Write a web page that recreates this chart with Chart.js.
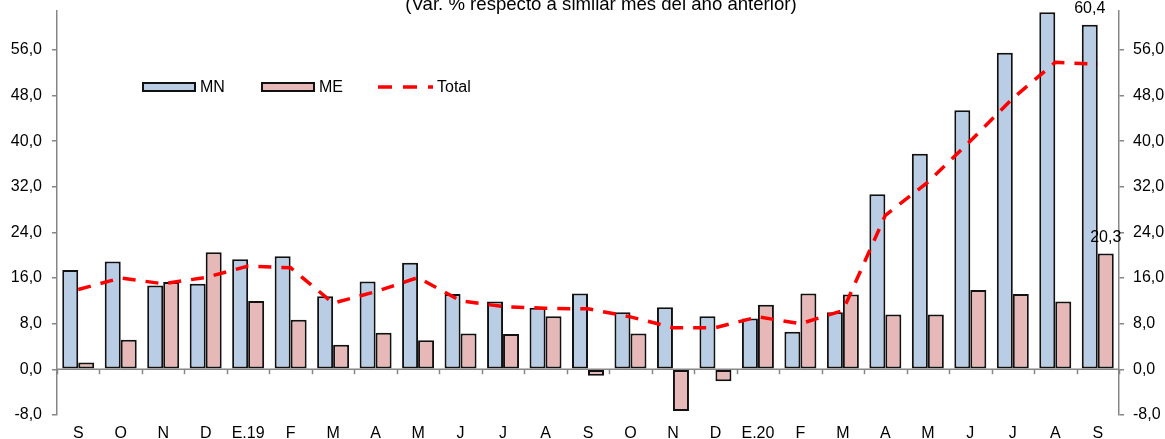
<!DOCTYPE html>
<html>
<head>
<meta charset="utf-8">
<script src="https://cdn.jsdelivr.net/npm/chart.js@4/dist/chart.umd.min.js"></script>
<style>
  body { margin: 0; background: #fff; }
  #wrap { width: 1165px; height: 439px; position: relative; }
</style>
</head>
<body>
<div id="wrap"><canvas id="myChart" width="1165" height="439"></canvas></div>
<script>
const months = ['S', 'O', 'N', 'D', 'E.19', 'F', 'M', 'A', 'M', 'J', 'J', 'A', 'S', 'O', 'N', 'D', 'E.20', 'F', 'M', 'A', 'M', 'J', 'J', 'A', 'S'];
const mnValues = [17.4, 18.9, 14.7, 15.0, 19.3, 19.8, 12.8, 15.4, 18.7, 13.2, 11.9, 10.8, 13.3, 10.0, 10.9, 9.3, 8.9, 6.6, 10.0, 30.7, 37.8, 45.4, 55.5, 62.6, 60.4];
const meValues = [1.2, 5.2, 15.3, 20.5, 12.0, 8.7, 4.3, 6.4, 5.1, 6.3, 6.2, 9.3, -1.1, 6.3, -7.3, -2.1, 11.3, 13.3, 13.1, 9.6, 9.6, 13.9, 13.2, 11.9, 20.3];
const totalValues = [14.0, 16.0, 15.0, 16.1, 18.1, 17.8, 11.6, 13.6, 16.1, 12.0, 11.0, 10.7, 10.6, 9.2, 7.3, 7.3, 9.2, 8.0, 10.3, 27.0, 32.8, 40.0, 47.5, 53.8, 53.5];
const yTicks = [-8, 0, 8, 16, 24, 32, 40, 48, 56];

const titleText = '(Var. % respecto a similar mes del año anterior)';
const blue = '#B9CDE5';
const pink = '#E6B9B8';
const red = '#FF0000';
const axisGray = '#868686';
const font = '16px "Liberation Sans", Arial, sans-serif';

function fmt(v) {
    return v.toFixed(1).replace('.', ',');
}

// zero line with its category tick marks
const zeroAxis = {
    id: 'zeroAxis',
    afterDatasetsDraw(chart) {
        const ctx = chart.ctx;
        const y0 = chart.scales.y.getPixelForValue(0);
        const area = chart.chartArea;
        ctx.save();
        ctx.strokeStyle = axisGray;
        ctx.lineWidth = 1.5;
        ctx.beginPath();
        ctx.moveTo(area.left, y0);
        ctx.lineTo(area.right, y0);
        const step = (area.right - area.left) / months.length;
        for (let i = 0; i <= months.length; i++) {
            const px = Math.round(area.left + i * step) + 0.5;
            ctx.moveTo(px, y0);
            ctx.lineTo(px, y0 + 5);
        }
        ctx.stroke();
        ctx.restore();
    }
};

// title, legend and the two value labels
const extras = {
    id: 'extras',
    afterDraw(chart) {
        const ctx = chart.ctx;
        ctx.save();
        ctx.fillStyle = '#000';
        ctx.font = '18.6px "Liberation Sans", Arial, sans-serif';
        ctx.textAlign = 'center';
        ctx.textBaseline = 'alphabetic';
        ctx.fillText(titleText, 601, 10);

        // legend
        ctx.font = font;
        ctx.textAlign = 'left';
        ctx.textBaseline = 'middle';
        ctx.lineWidth = 2;
        ctx.strokeStyle = '#111';
        ctx.fillStyle = blue;
        ctx.fillRect(143, 83, 52, 8);
        ctx.strokeRect(143, 83, 52, 8);
        ctx.fillStyle = pink;
        ctx.fillRect(262, 83, 52, 8);
        ctx.strokeRect(262, 83, 52, 8);
        ctx.fillStyle = '#000';
        ctx.fillText('MN', 200, 88);
        ctx.fillText('ME', 319, 88);
        ctx.fillText('Total', 437, 88);
        ctx.strokeStyle = red;
        ctx.lineWidth = 3.5;
        ctx.setLineDash([14, 11]);
        ctx.beginPath();
        ctx.moveTo(378, 87);
        ctx.lineTo(433, 87);
        ctx.stroke();
        ctx.setLineDash([]);

        // labels over the last bars
        const last = months.length - 1;
        ctx.textAlign = 'center';
        ctx.textBaseline = 'alphabetic';
        [1, 2].forEach((di) => {
            const bar = chart.getDatasetMeta(di).data[last];
            const v = chart.data.datasets[di].data[last];
            ctx.fillText(fmt(v), bar.x, bar.y - 12);
        });
        ctx.restore();
    }
};

const data = {
    labels: months,
    datasets: [
        {
            type: 'line',
            label: 'Total',
            data: totalValues,
            borderColor: red,
            borderWidth: 3.5,
            borderDash: [13, 10],
            pointRadius: 0,
            tension: 0,
            fill: false,
            order: 0
        },
        {
            type: 'bar',
            label: 'MN',
            data: mnValues,
            backgroundColor: blue,
            borderColor: '#111',
            borderWidth: 2,
            borderSkipped: false,
            order: 1
        },
        {
            type: 'bar',
            label: 'ME',
            data: meValues,
            backgroundColor: pink,
            borderColor: '#111',
            borderWidth: 2,
            borderSkipped: false,
            order: 1
        }
    ]
};

function yAxis(position, width, pad) {
    return {
        position: position,
        min: -8,
        max: 62.8,
        afterBuildTicks(scale) {
            scale.ticks = yTicks.map((v) => ({ value: v }));
        },
        afterFit(scale) {
            scale.width = width;
            scale.paddingTop = 0;
            scale.paddingBottom = 0;
        },
        grid: {
            drawOnChartArea: false,
            drawTicks: true,
            tickLength: 5,
            color: axisGray,
            lineWidth: 1.5
        },
        border: { display: true, color: axisGray, width: 1.5 },
        ticks: {
            padding: pad,
            color: '#000',
            font: { family: '"Liberation Sans", Arial, sans-serif', size: 16 },
            callback: (v) => fmt(v)
        }
    };
}

const config = {
    type: 'bar',
    data: data,
    options: {
        responsive: false,
        animation: false,
        layout: { padding: { top: 11, left: 0, right: 0, bottom: 0 } },
        datasets: {
            bar: { categoryPercentage: 0.753, barPercentage: 1.0 }
        },
        plugins: {
            legend: { display: false },
            title: { display: false },
            tooltip: { enabled: false }
        },
        scales: {
            x: {
                grid: { display: false, drawTicks: false },
                border: { display: false },
                afterFit(scale) {
                    scale.height = 24;
                    scale.paddingLeft = 0;
                    scale.paddingRight = 0;
                },
                ticks: {
                    padding: 9,
                    color: '#000',
                    maxRotation: 0,
                    autoSkip: false,
                    font: { family: '"Liberation Sans", Arial, sans-serif', size: 16 }
                }
            },
            y: yAxis('left', 57, 10),
            y2: yAxis('right', 46, 9)
        }
    },
    plugins: [zeroAxis, extras]
};

const ctx = document.getElementById('myChart').getContext('2d');
new Chart(ctx, config);
</script>
</body>
</html>
